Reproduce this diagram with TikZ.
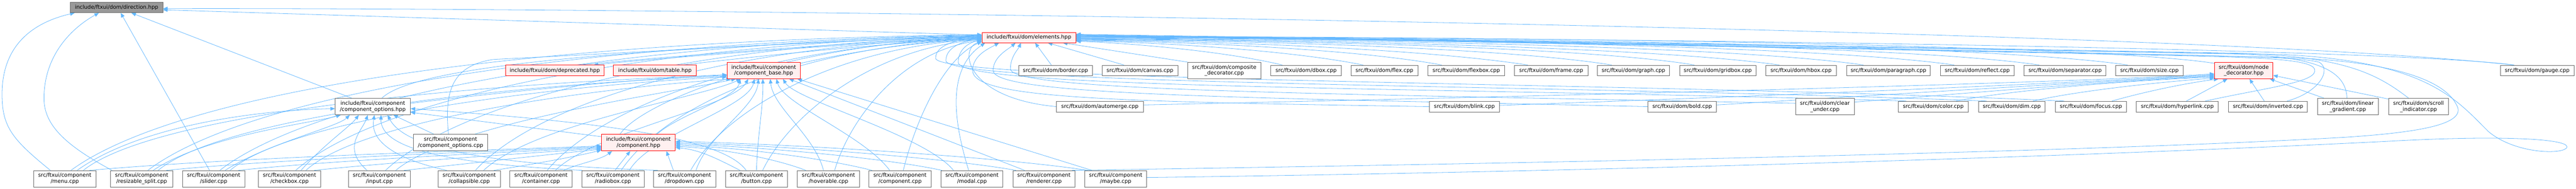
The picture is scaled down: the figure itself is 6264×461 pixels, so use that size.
\documentclass[tikz,border=0pt]{standalone}
\usepackage{fontspec}
\setmainfont{DejaVu Sans}
\usetikzlibrary{arrows.meta,calc}
\definecolor{edgec}{HTML}{63B8FF}
\definecolor{redb}{HTML}{FF0000}
\definecolor{pinkf}{HTML}{FFF0F0}
\definecolor{grayb}{HTML}{666666}
\definecolor{rootf}{HTML}{999999}
\pgfdeclarelayer{bg}
\pgfsetlayers{bg,main}
\begin{document}
\begin{tikzpicture}[x=1pt,y=-1pt,
  box/.style={draw=grayb,line width=1pt,fill=white,inner sep=0pt,align=center,font=\fontsize{12.9}{15}\selectfont},
  redbox/.style={box,draw=redb,fill=pinkf,line width=1.2pt},
  rootbox/.style={box,fill=rootf},
  bot/.style={box,minimum width=151pt,minimum height=40pt},
  rone/.style={box,minimum height=26pt},
  rtwo/.style={box,minimum height=26pt},
  dep/.style={draw=edgec,line width=1pt,-{Triangle[length=11pt,width=9pt]}}]
\useasboundingbox (0,0) rectangle (6264,461);
% headers
\node[rootbox,minimum width=225pt,minimum height=26pt] (D) at (283.5,18) {include/ftxui/dom/direction.hpp};
\node[redbox,minimum width=228pt,minimum height=25pt] (E) at (2502,91.5) {include/ftxui/dom/elements.hpp};
\node[box,minimum width=183pt,minimum height=40pt] (CO) at (906.5,260) {include/ftxui/component\\/component\_options.hpp};
\node[box,minimum width=181pt,minimum height=40pt] (COC) at (1095.5,348) {src/ftxui/component\\/component\_options.cpp};
\node[redbox,minimum width=240pt,minimum height=26pt] (DEP) at (1349,172) {include/ftxui/dom/deprecated.hpp};
\node[redbox,minimum width=201pt,minimum height=26pt] (TAB) at (1592.5,172) {include/ftxui/dom/table.hpp};
\node[redbox,minimum width=179pt,minimum height=40pt] (C) at (1552.5,348) {include/ftxui/component\\/component.hpp};
\node[redbox,minimum width=178pt,minimum height=40pt] (CB) at (1857,172) {include/ftxui/component\\/component\_base.hpp};
\node[redbox,minimum width=142pt,minimum height=40pt] (ND) at (5456,172) {src/ftxui/dom/node\\\_decorator.hpp};
% bottom row
\node[bot] (menu) at (157.5,436) {src/ftxui/component\\/menu.cpp};
\node[bot] (rsplit) at (344.5,436) {src/ftxui/component\\/resizable\_split.cpp};
\node[bot] (slider) at (519.5,436) {src/ftxui/component\\/slider.cpp};
\node[bot] (checkbox) at (704,436) {src/ftxui/component\\/checkbox.cpp};
\node[bot] (input) at (922.5,436) {src/ftxui/component\\/input.cpp};
\node[bot] (collapsible) at (1141,436) {src/ftxui/component\\/collapsible.cpp};
\node[bot] (container) at (1315.5,436) {src/ftxui/component\\/container.cpp};
\node[bot] (radiobox) at (1490.5,436) {src/ftxui/component\\/radiobox.cpp};
\node[bot] (dropdown) at (1664.5,436) {src/ftxui/component\\/dropdown.cpp};
\node[bot] (button) at (1839.5,436) {src/ftxui/component\\/button.cpp};
\node[bot] (hoverable) at (2014.5,436) {src/ftxui/component\\/hoverable.cpp};
\node[bot] (compcpp) at (2188.5,436) {src/ftxui/component\\/component.cpp};
\node[bot] (modal) at (2363.5,436) {src/ftxui/component\\/modal.cpp};
\node[bot] (renderer) at (2538.5,436) {src/ftxui/component\\/renderer.cpp};
\node[bot] (maybe) at (2713,436) {src/ftxui/component\\/maybe.cpp};
% dom row 1
\node[rone,minimum width=179pt] (border) at (2566.5,172) {src/ftxui/dom/border.cpp};
\node[rone,minimum width=184pt] (canvas) at (2772,172) {src/ftxui/dom/canvas.cpp};
\node[box,minimum width=178pt,minimum height=40pt] (compdec) at (2977,172) {src/ftxui/dom/composite\\\_decorator.cpp};
\node[rone,minimum width=172pt] (dbox) at (3176,172) {src/ftxui/dom/dbox.cpp};
\node[rone,minimum width=163pt] (flex) at (3366.5,172) {src/ftxui/dom/flex.cpp};
\node[rone,minimum width=187pt] (flexbox) at (3565.5,172) {src/ftxui/dom/flexbox.cpp};
\node[rone,minimum width=178pt] (frame) at (3772,172) {src/ftxui/dom/frame.cpp};
\node[rone,minimum width=176pt] (graph) at (3972,172) {src/ftxui/dom/graph.cpp};
\node[rone,minimum width=186pt] (gridbox) at (4177,172) {src/ftxui/dom/gridbox.cpp};
\node[rone,minimum width=171pt] (hbox) at (4379.5,172) {src/ftxui/dom/hbox.cpp};
\node[rone,minimum width=204pt] (paragraph) at (4592,172) {src/ftxui/dom/paragraph.cpp};
\node[rone,minimum width=180pt] (reflect) at (4808,172) {src/ftxui/dom/reflect.cpp};
\node[rone,minimum width=199pt] (separator) at (5021.5,172) {src/ftxui/dom/separator.cpp};
\node[rone,minimum width=165pt] (size) at (5226.5,172) {src/ftxui/dom/size.cpp};
\node[rone,minimum width=179pt] (gauge) at (6169.5,172) {src/ftxui/dom/gauge.cpp};
% dom row 2
\node[rtwo,minimum width=211pt] (automerge) at (2674.5,260) {src/ftxui/dom/automerge.cpp};
\node[rtwo,minimum width=170pt] (blink) at (3561,260) {src/ftxui/dom/blink.cpp};
\node[rtwo,minimum width=167pt] (bold) at (4090.5,260) {src/ftxui/dom/bold.cpp};
\node[box,minimum width=143pt,minimum height=40pt] (clearunder) at (4437.5,260) {src/ftxui/dom/clear\\\_under.cpp};
\node[rtwo,minimum width=170pt] (color) at (4701,260) {src/ftxui/dom/color.cpp};
\node[rtwo,minimum width=162pt] (dim) at (4892,260) {src/ftxui/dom/dim.cpp};
\node[rtwo,minimum width=173pt] (focus) at (5084.5,260) {src/ftxui/dom/focus.cpp};
\node[rtwo,minimum width=199pt] (hyperlink) at (5294.5,260) {src/ftxui/dom/hyperlink.cpp};
\node[rtwo,minimum width=192pt] (inverted) at (5515,260) {src/ftxui/dom/inverted.cpp};
\node[box,minimum width=148pt,minimum height=40pt] (lingrad) at (5709,260) {src/ftxui/dom/linear\\\_gradient.cpp};
\node[box,minimum width=146pt,minimum height=40pt] (scrollind) at (5881,260) {src/ftxui/dom/scroll\\\_indicator.cpp};

\begin{pgfonlayer}{bg}
\fill[white] (0,0) rectangle (6264,461);
% ---- to direction.hpp
\draw[dep] ($(gauge.north)+(-58,0)$) .. controls (5200,60) and (1500,18) .. ($(D.east)+(0,3)$);
\draw[dep] ($(E.west)+(0,-6)$) -- ($(D.east)+(0,6)$);
\draw[dep] ($(CO.north west)+(41,0)$) -- ($(D.south)+(36,0)$);
\draw[dep] ($(slider.north)+(-10,0)$) -- ($(D.south)+(10,0)$);
\draw[dep] ($(menu.north)+(-35,0)$) .. controls (30,340) and (5,310) .. (5,230) .. controls (5,110) and (80,55) .. ($(D.south)+(-102,0)$);
\draw[dep] ($(rsplit.north)+(-72,0)$) .. controls (150,350) and (107,300) .. (107,240) .. controls (107,130) and (180,65) .. ($(D.south)+(-43,0)$);
% ---- headers
\draw[dep] ($(CB.north east)+(0,3)$) .. controls (2100,120) and (2250,100) .. ($(E.west)+(0,6)$);
\draw[dep] ($(C.north)+(-45,0)$) .. controls (1560,250) and (1900,110) .. ($(E.west)+(0,-2)$);
\draw[dep] ($(CO.north)+(22,0)$) .. controls (1030,140) and (1800,110) .. ($(E.west)+(0,-4)$);
\draw[dep] ($(DEP.north)+(61,0)$) .. controls (1600,140) and (2100,100) .. ($(E.west)+(0,-1)$);
\draw[dep] ($(E.west)+(0,1)$) .. controls (2100,103) and (1600,142) .. ($(DEP.north east)+(-26,0)$);
\draw[dep] ($(TAB.north)+(68,0)$) .. controls (1900,130) and (2200,102) .. ($(E.west)+(0,2)$);
\draw[dep] ($(ND.north west)+(0,3)$) .. controls (5100,110) and (3800,90) .. ($(E.east)+(0,-3)$);
\draw[dep] ($(COC.north)+(-5,0)$) .. controls (1080,220) and (1100,160) .. (1200,145) .. controls (1600,125) and (2000,100) .. ($(E.west)+(0,-3)$);
\draw[dep] ($(COC.north)+(-40,0)$) -- ($(CO.south)+(50,0)$);
\draw[dep] ($(C.north west)+(0,6)$) -- ($(CO.east)+(0,14)$);
\draw[dep] ($(CO.east)+(0,-8)$) .. controls (1300,215) and (1600,190) .. ($(CB.west)+(0,10)$);
\draw[dep] ($(C.north)+(45,0)$) .. controls (1650,280) and (1790,240) .. ($(CB.south)+(-57,0)$);
% ---- dom row 1 to elements.hpp
\draw[dep] ($(border.north)+(-10,0)$) -- ($(E.south)+(15,0)$);
\draw[dep] ($(canvas.north)+(-39,0)$) -- ($(E.south)+(46,0)$);
\draw[dep] ($(compdec.north)+(-89,0)$) -- ($(E.south east)+(-32,0)$);
\draw[dep] ($(dbox.north)+(-58,0)$) .. controls (3000,130) and (2800,108) .. ($(E.east)+(0,9)$);
\draw[dep] ($(flex.north)+(-52,0)$) .. controls (3150,125) and (2850,104) .. ($(E.east)+(0,8)$);
\draw[dep] ($(flexbox.north)+(-60,0)$) .. controls (3300,120) and (2900,102) .. ($(E.east)+(0,7)$);
\draw[dep] ($(frame.north)+(-57,0)$) .. controls (3450,118) and (2950,100) .. ($(E.east)+(0,6)$);
\draw[dep] ($(graph.north)+(-53,0)$) .. controls (3650,115) and (3000,98) .. ($(E.east)+(0,5)$);
\draw[dep] ($(gridbox.north)+(-57,0)$) .. controls (3850,113) and (3050,97) .. ($(E.east)+(0,4)$);
\draw[dep] ($(hbox.north)+(-53,0)$) .. controls (4000,112) and (3100,96) .. ($(E.east)+(0,3)$);
\draw[dep] ($(paragraph.north)+(-61,0)$) .. controls (4200,110) and (3200,95) .. ($(E.east)+(0,2)$);
\draw[dep] ($(reflect.north)+(-56,0)$) .. controls (4400,108) and (3300,94) .. ($(E.east)+(0,1)$);
\draw[dep] ($(separator.north)+(-63,0)$) .. controls (4600,106) and (3400,93) .. ($(E.east)+(0,0)$);
\draw[dep] ($(size.north)+(-53,0)$) .. controls (4800,104) and (3500,92) .. ($(E.east)+(0,-1)$);
\draw[dep] ($(gauge.north)+(-56,0)$) .. controls (5800,118) and (4000,92) .. ($(E.east)+(0,-2)$);
% ---- long loops on the right
\draw[dep] ($(renderer.north east)+(-8,0)$) .. controls (3500,402) and (5000,375) .. (5700,335) .. controls (5900,322) and (6000,300) .. (5973,255) .. controls (5940,190) and (5800,148) .. (5550,140) .. controls (4200,110) and (3200,96) .. ($(E.east)+(0,-4)$);
\draw[dep] ($(maybe.east)+(0,-3)$) .. controls (3800,420) and (5000,385) .. (5800,345) .. controls (6100,328) and (6262,340) .. (6240,362) .. controls (6220,378) and (6110,372) .. (6050,320) .. controls (5970,240) and (5900,150) .. (5550,133) .. controls (4200,108) and (3200,95) .. ($(E.east)+(0,-5)$);
% ---- dom row 2 to elements.hpp
\draw[dep] (automerge.west) .. controls (2350,240) and (2330,120) .. ($(E.west)+(0,9)$);
\draw[dep] (blink.west) .. controls (2700,248) and (2365,240) .. (2365,172) .. controls (2365,135) and (2405,118) .. ($(E.south west)+(42,0)$);
\draw[dep] (bold.west) .. controls (3000,238) and (2415,232) .. (2415,172) .. controls (2415,138) and (2452,120) .. ($(E.south west)+(82,0)$);
\draw[dep] ($(clearunder.west)+(0,-8)$) .. controls (3200,228) and (2457,222) .. (2457,168) .. controls (2457,138) and (2476,120) .. ($(E.south west)+(95,0)$);
\draw[dep] ($(color.north west)+(20,0)$) .. controls (3500,212) and (2330,218) .. (2330,152) .. controls (2330,118) and (2360,102) .. ($(E.west)+(0,7)$);
\draw[dep] ($(dim.north west)+(20,0)$) .. controls (3800,206) and (2300,208) .. (2300,148) .. controls (2300,112) and (2350,98) .. ($(E.west)+(0,5)$);
\draw[dep] ($(focus.north west)+(22,0)$) .. controls (4000,200) and (2275,200) .. (2275,142) .. controls (2275,106) and (2340,94) .. ($(E.west)+(0,3)$);
\draw[dep] ($(hyperlink.north east)+(-32,0)$) .. controls (5520,212) and (5640,200) .. (5628,168) .. controls (5618,145) and (5500,140) .. (5300,136) .. controls (4200,112) and (3200,96) .. ($(E.east)+(0,-6)$);
\draw[dep] ($(inverted.north east)+(-50,0)$) .. controls (5640,225) and (5670,170) .. (5640,152) .. controls (5600,140) and (5450,138) .. (5300,134) .. controls (4200,110) and (3200,95) .. ($(E.east)+(0,-6)$);
\draw[dep] ($(lingrad.north)+(-2,0)$) .. controls (5705,175) and (5640,140) .. (5450,132) .. controls (4200,108) and (3200,94) .. ($(E.east)+(0,-7)$);
\draw[dep] ($(scrollind.north)+(-24,0)$) .. controls (5780,180) and (5700,138) .. (5450,130) .. controls (4200,106) and (3200,93) .. ($(E.east)+(0,-8)$);
% ---- dom row 2 to node_decorator.hpp
\draw[dep] ($(automerge.east)+(0,-4)$) .. controls (3500,240) and (5000,205) .. ($(ND.west)+(0,8)$);
\draw[dep] ($(blink.east)+(0,-3)$) .. controls (4200,238) and (5000,205) .. ($(ND.west)+(0,10)$);
\draw[dep] ($(bold.east)+(0,-4)$) .. controls (4500,236) and (5000,205) .. ($(ND.west)+(0,12)$);
\draw[dep] ($(clearunder.east)+(0,-11)$) .. controls (4800,226) and (5100,200) .. ($(ND.west)+(0,14)$);
\draw[dep] ($(color.north east)+(-30,0)$) .. controls (4900,218) and (5200,195) .. ($(ND.west)+(0,16)$);
\draw[dep] ($(dim.north east)+(-30,0)$) .. controls (5050,222) and (5250,200) .. ($(ND.south west)+(0,-2)$);
\draw[dep] ($(focus.north east)+(-36,0)$) .. controls (5200,228) and (5300,205) .. ($(ND.south west)+(10,0)$);
\draw[dep] ($(hyperlink.north)+(22,0)$) -- ($(ND.south west)+(32,0)$);
\draw[dep] ($(inverted.north)+(-9,0)$) -- ($(ND.south)+(14,0)$);
\draw[dep] ($(lingrad.north west)+(17,0)$) -- ($(ND.south east)+(-8,0)$);
\draw[dep] ($(scrollind.north west)+(0,2)$) -- ($(ND.east)+(0,12)$);
% ---- component sources to elements.hpp
\draw[dep] ($(menu.north)+(15,0)$) .. controls (440,220) and (1270,100) .. ($(E.west)+(0,-7)$);
\draw[dep] ($(rsplit.north)+(15,0)$) .. controls (605,230) and (1366,105) .. ($(E.west)+(0,-6)$);
\draw[dep] ($(slider.north)+(15,0)$) .. controls (760,240) and (1450,105) .. ($(E.west)+(0,-5)$);
\draw[dep] ($(checkbox.north)+(15,0)$) .. controls (920,240) and (1546,108) .. ($(E.west)+(0,-4)$);
\draw[dep] ($(input.north)+(15,0)$) .. controls (1113,250) and (1655,108) .. ($(E.west)+(0,-2)$);
\draw[dep] ($(collapsible.north)+(15,0)$) .. controls (1306,250) and (1765,110) .. ($(E.west)+(0,0)$);
\draw[dep] ($(container.north)+(15,0)$) .. controls (1460,260) and (1850,110) .. ($(E.west)+(0,2)$);
\draw[dep] ($(radiobox.north)+(20,0)$) .. controls (1615,260) and (1940,112) .. ($(E.west)+(0,3)$);
\draw[dep] ($(dropdown.north)+(15,0)$) .. controls (1760,270) and (2030,115) .. ($(E.west)+(0,4)$);
\draw[dep] ($(button.north)+(15,0)$) .. controls (1920,280) and (2120,118) .. ($(E.west)+(0,5)$);
\draw[dep] ($(hoverable.north)+(15,0)$) .. controls (2070,280) and (2200,122) .. ($(E.west)+(0,7)$);
\draw[dep] ($(compcpp.north)+(8,0)$) .. controls (2230,280) and (2300,140) .. ($(E.west)+(0,10)$);
\draw[dep] ($(modal.north)+(-8,0)$) .. controls (2320,300) and (2300,170) .. ($(E.south west)+(8,0)$);
% ---- component sources to component_base.hpp
\draw[dep] ($(menu.north)+(45,0)$) .. controls (400,260) and (1300,197) .. ($(CB.west)+(0,12)$);
\draw[dep] ($(rsplit.north)+(40,0)$) .. controls (560,270) and (1350,200) .. ($(CB.west)+(0,14)$);
\draw[dep] ($(slider.north)+(40,0)$) .. controls (720,280) and (1400,205) .. ($(CB.west)+(0,16)$);
\draw[dep] ($(checkbox.north)+(40,0)$) .. controls (880,290) and (1450,215) .. ($(CB.south west)+(10,0)$);
\draw[dep] ($(input.north)+(40,0)$) .. controls (1100,300) and (1600,232) .. ($(CB.south west)+(22,0)$);
\draw[dep] ($(collapsible.north)+(35,0)$) .. controls (1300,300) and (1700,240) .. ($(CB.south west)+(34,0)$);
\draw[dep] ($(container.north)+(35,0)$) .. controls (1450,320) and (1780,262) .. ($(CB.south west)+(52,0)$);
\draw[dep] ($(radiobox.north)+(40,0)$) .. controls (1580,330) and (1820,262) .. ($(CB.south west)+(67,0)$);
\draw[dep] ($(dropdown.north)+(28,0)$) .. controls (1720,330) and (1838,262) .. ($(CB.south west)+(77,0)$);
\draw[dep] (button.north) .. controls (1842,330) and (1856,262) .. ($(CB.south)+(-2,0)$);
\draw[dep] ($(hoverable.north)+(-12,0)$) .. controls (1980,330) and (1880,262) .. ($(CB.south)+(16,0)$);
\draw[dep] ($(compcpp.north)+(-25,0)$) .. controls (2100,330) and (1905,255) .. ($(CB.south)+(31,0)$);
\draw[dep] ($(modal.north)+(-45,0)$) .. controls (2250,330) and (1935,245) .. ($(CB.south)+(47,0)$);
\draw[dep] ($(renderer.north)+(-47,0)$) -- ($(CB.south)+(62,0)$);
\draw[dep] ($(maybe.north)+(-58,0)$) -- ($(CB.south)+(82,0)$);
% ---- component sources to component.hpp
\draw[dep] ($(menu.north)+(60,0)$) .. controls (600,382) and (1200,366) .. ($(C.west)+(0,8)$);
\draw[dep] ($(rsplit.north)+(60,0)$) .. controls (700,386) and (1220,368) .. ($(C.west)+(0,10)$);
\draw[dep] ($(slider.north)+(60,0)$) .. controls (820,390) and (1250,370) .. ($(C.west)+(0,12)$);
\draw[dep] ($(checkbox.north)+(60,0)$) .. controls (960,395) and (1300,372) .. ($(C.west)+(0,14)$);
\draw[dep] ($(input.north)+(60,0)$) .. controls (1150,398) and (1350,375) .. ($(C.west)+(0,16)$);
\draw[dep] ($(collapsible.north)+(60,0)$) .. controls (1300,400) and (1400,382) .. ($(C.west)+(0,18)$);
\draw[dep] ($(container.north)+(55,0)$) .. controls (1410,398) and (1460,390) .. ($(C.south west)+(26,0)$);
\draw[dep] ($(radiobox.north)+(5,0)$) -- ($(C.south)+(-20,0)$);
\draw[dep] ($(dropdown.north)+(-27,0)$) -- ($(C.south east)+(-22,0)$);
\draw[dep] ($(button.north)+(-40,0)$) .. controls (1740,385) and (1700,365) .. ($(C.east)+(0,12)$);
\draw[dep] ($(hoverable.north)+(-55,0)$) .. controls (1880,385) and (1750,362) .. ($(C.east)+(0,9)$);
\draw[dep] ($(compcpp.north)+(-68,0)$) .. controls (2000,385) and (1800,360) .. ($(C.east)+(0,6)$);
\draw[dep] ($(modal.north)+(-73,0)$) .. controls (2150,385) and (1850,358) .. ($(C.east)+(0,3)$);
\draw[dep] ($(renderer.north)+(-68,0)$) .. controls (2300,385) and (1900,355) .. ($(C.east)+(0,0)$);
\draw[dep] ($(maybe.north)+(-68,0)$) .. controls (2450,385) and (1950,352) .. ($(C.east)+(0,-3)$);
% ---- component sources to component_options.hpp
\draw[dep] ($(menu.north)+(30,0)$) .. controls (350,300) and (650,268) .. ($(CO.west)+(0,5)$);
\draw[dep] ($(rsplit.north)+(28,0)$) .. controls (500,330) and (760,300) .. ($(CO.south west)+(14,0)$);
\draw[dep] ($(slider.north)+(28,0)$) .. controls (650,350) and (820,310) .. ($(CO.south west)+(36,0)$);
\draw[dep] ($(checkbox.north)+(28,0)$) .. controls (790,350) and (850,310) .. ($(CO.south west)+(58,0)$);
\draw[dep] ($(input.north)+(-30,0)$) .. controls (830,360) and (880,320) .. ($(CO.south)+(-12,0)$);
\draw[dep] ($(collapsible.north)+(-55,0)$) .. controls (950,385) and (900,340) .. ($(CO.south)+(4,0)$);
\draw[dep] ($(radiobox.north)+(-75,0)$) .. controls (1100,400) and (925,365) .. ($(CO.south)+(20,0)$);
\draw[dep] ($(dropdown.north)+(-65,0)$) .. controls (1200,402) and (985,365) .. ($(CO.south)+(36,0)$);
\draw[dep] ($(button.north)+(-25,0)$) .. controls (1760,340) and (1500,300) .. ($(CO.east)+(0,5)$);
\end{pgfonlayer}
\end{tikzpicture}
\end{document}
